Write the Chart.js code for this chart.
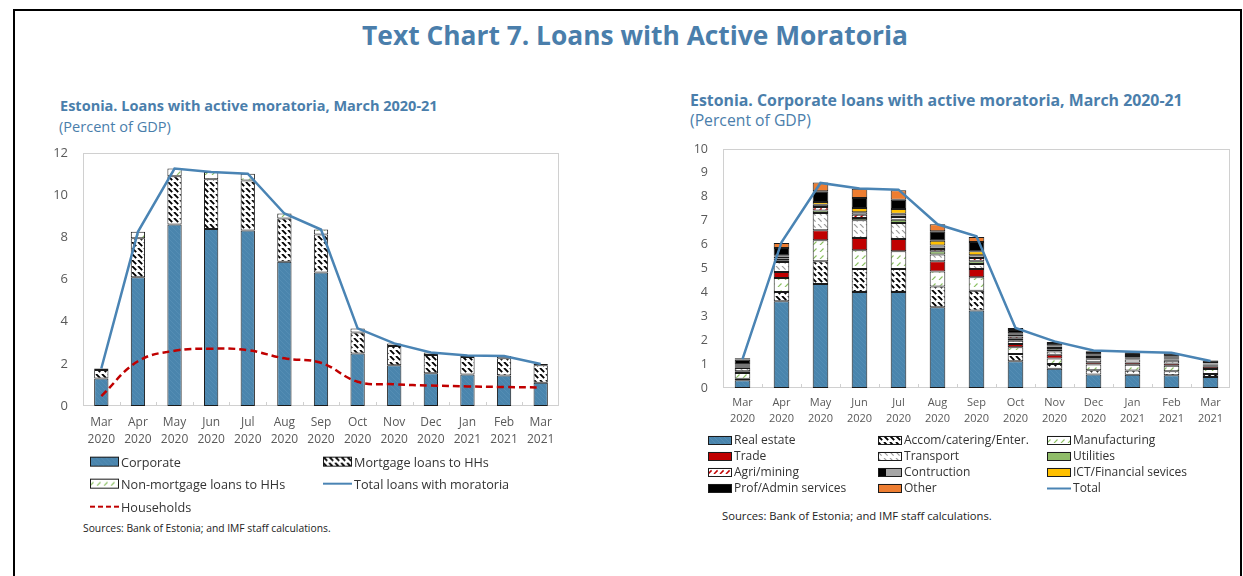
<!DOCTYPE html>
<html><head><meta charset="utf-8">
<script src="https://cdn.jsdelivr.net/npm/chart.js@4.4.1/dist/chart.umd.min.js"></script>
<style>
html,body{margin:0;padding:0;background:#fff;}
body{width:1243px;height:576px;position:relative;overflow:hidden;font-family:"Open Sans",sans-serif;}
#frame{position:absolute;left:13px;top:9px;width:1225px;height:620px;border:2px solid #000;}
.t{position:absolute;white-space:nowrap;line-height:1;transform:translateY(-50%);}
.blue{color:#4a7eab;}
.b{font-weight:700;}
.leg{position:absolute;white-space:nowrap;line-height:1;transform:translateY(-50%);display:flex;align-items:center;color:#333;}
.leg canvas{display:block;margin-right:2px;}
canvas.chart{position:absolute;}
</style>
</head><body>
<div id="frame"></div>
<div id="title" class="t blue b" style="left:635px;top:35px;transform:translate(-50%,-50%);">Text Chart 7. Loans with Active Moratoria</div>
<div id="subL" class="t blue b" style="left:60px;top:105px;">Estonia. Loans with active moratoria, March 2020-21</div>
<div id="pctL" class="t blue" style="left:59px;top:126px;">(Percent of GDP)</div>
<div id="subR" class="t blue b" style="left:690px;top:101px;">Estonia. Corporate loans with active moratoria, March 2020-21</div>
<div id="pctR" class="t blue" style="left:690px;top:121px;">(Percent of GDP)</div>
<canvas id="cL" class="chart" width="545" height="320" style="left:30px;top:140px;width:545px;height:320px"></canvas>
<canvas id="cR" class="chart" width="560" height="300" style="left:680px;top:140px;width:560px;height:300px"></canvas>
<div id="srcL" class="t" style="left:83px;top:528px;color:#222;">Sources: Bank of Estonia; and IMF staff calculations.</div>
<div id="srcR" class="t" style="left:722px;top:516px;color:#222;">Sources: Bank of Estonia; and IMF staff calculations.</div>
<div id="legends"></div>
<script>
// ---------- DATA ----------
const categories = [['Mar','2020'],['Apr','2020'],['May','2020'],['Jun','2020'],['Jul','2020'],['Aug','2020'],['Sep','2020'],['Oct','2020'],['Nov','2020'],['Dec','2020'],['Jan','2021'],['Feb','2021'],['Mar','2021']];

// Left panel: loans with active moratoria (percent of GDP)
const corporate   = [1.31, 6.11, 8.61, 8.40, 8.32, 6.84, 6.33, 2.49, 1.93, 1.55, 1.50, 1.45, 1.10];
const mortgage    = [0.40, 1.85, 2.29, 2.35, 2.37, 2.05, 1.80, 1.00, 0.91, 0.87, 0.82, 0.82, 0.83];
const nonMortgage = [0.07, 0.30, 0.36, 0.35, 0.33, 0.24, 0.24, 0.19, 0.13, 0.12, 0.08, 0.10, 0.06];
const totalLoans  = [1.78, 8.26, 11.26, 11.10, 11.02, 9.13, 8.37, 3.68, 2.97, 2.54, 2.40, 2.37, 1.99];
const households  = [0.47, 2.12, 2.62, 2.72, 2.65, 2.26, 2.05, 1.15, 1.03, 0.97, 0.93, 0.90, 0.88];
const leftTicks   = [0, 2, 4, 6, 8, 10, 12];

// Right panel: corporate loans with active moratoria by sector (percent of GDP)
const realEstate    = [0.32, 3.63, 4.35, 4.02, 4.02, 3.38, 3.24, 1.12, 0.81, 0.56, 0.55, 0.53, 0.46];
const accom         = [0.07, 0.39, 0.95, 0.96, 0.96, 0.87, 0.83, 0.30, 0.19, 0.18, 0.18, 0.17, 0.13];
const manufacturing = [0.24, 0.58, 0.88, 0.78, 0.74, 0.62, 0.56, 0.28, 0.23, 0.24, 0.24, 0.23, 0.20];
const trade         = [0.07, 0.25, 0.42, 0.52, 0.51, 0.43, 0.35, 0.14, 0.16, 0.10, 0.10, 0.09, 0.10];
const transport     = [0.14, 0.42, 0.72, 0.74, 0.67, 0.29, 0.21, 0.14, 0.14, 0.12, 0.12, 0.12, 0.06];
const utilities     = [0.03, 0.07, 0.11, 0.09, 0.14, 0.13, 0.11, 0.08, 0.07, 0.05, 0.05, 0.05, 0.03];
const agriMining    = [0.04, 0.08, 0.14, 0.14, 0.11, 0.10, 0.14, 0.09, 0.07, 0.05, 0.05, 0.05, 0.03];
const construction  = [0.04, 0.08, 0.10, 0.10, 0.14, 0.14, 0.11, 0.08, 0.07, 0.05, 0.05, 0.05, 0.03];
const ictFinancial  = [0.02, 0.03, 0.11, 0.18, 0.20, 0.20, 0.17, 0.06, 0.05, 0.04, 0.04, 0.02, 0.01];
const profAdmin     = [0.22, 0.33, 0.45, 0.42, 0.39, 0.40, 0.39, 0.14, 0.09, 0.12, 0.12, 0.12, 0.10];
const other         = [0.05, 0.21, 0.37, 0.39, 0.39, 0.29, 0.21, 0.08, 0.04, 0.03, 0.02, 0.03, 0.01];
const corpTotal     = [1.21, 6.10, 8.58, 8.35, 8.30, 6.85, 6.35, 2.51, 1.95, 1.57, 1.52, 1.47, 1.13];
const rightTicks    = [0, 1, 2, 3, 4, 5, 6, 7, 8, 9, 10];

// ---------- STYLE HELPERS ----------
const FONT = '"Open Sans", sans-serif';
const scratch = document.createElement('canvas').getContext('2d');
function hatch(bg, fg, dir, lw, size, dash) {
  const c = document.createElement('canvas'); c.width = c.height = size;
  const x = c.getContext('2d');
  x.fillStyle = bg; x.fillRect(0, 0, size, size);
  x.strokeStyle = fg; x.lineWidth = lw; if (dash) x.setLineDash(dash);
  x.beginPath();
  for (let k = -1; k <= 1; k++) {
    if (dir === '\\') { x.moveTo(k * size, 0); x.lineTo(k * size + size, size); }
    else { x.moveTo(k * size, size); x.lineTo(k * size + size, 0); }
  }
  x.stroke();
  return scratch.createPattern(c, 'repeat');
}
const D6 = 6 * Math.SQRT2, D7 = 7 * Math.SQRT2;
const P = {
  corp: hatch('#4a85ad', '#548db4', '\\', 1, 5),
  mort: hatch('#ffffff', '#000000', '\\', 1.9, 6, [D6 * 0.7, D6 * 0.3]),
  nonm: hatch('#ffffff', '#8cc063', '/', 1.2, 7, [D7 * 0.5, D7 * 0.5]),
  accom: hatch('#ffffff', '#000000', '\\', 1.9, 6, [D6 * 0.7, D6 * 0.3]),
  manu: hatch('#ffffff', '#8cc063', '/', 1.2, 7, [D7 * 0.5, D7 * 0.5]),
  trans: hatch('#ffffff', '#9a9a9a', '\\', 1.2, 6, [D6 * 0.6, D6 * 0.4]),
  agri: hatch('#ffffff', '#c00000', '/', 1.5, 6, [D6 * 0.6, D6 * 0.4]),
  constr: '#a5a5a5'
};
const BORDER = '#1a1a1a';

function frameAndTicks(color) {
  return {
    id: 'frameTicks',
    beforeDatasetsDraw(chart) {
      const { ctx, chartArea: a, scales: { x } } = chart;
      ctx.save();
      ctx.strokeStyle = color; ctx.lineWidth = 1;
      ctx.strokeRect(Math.round(a.left) + 0.5, Math.round(a.top) + 0.5, Math.round(a.right - a.left) - 1, Math.round(a.bottom - a.top) - 1);
      ctx.beginPath();
      const n = chart.data.labels.length;
      for (let i = 1; i < n; i++) {
        const px = Math.round((x.getPixelForValue(i - 1) + x.getPixelForValue(i)) / 2) + 0.5;
        ctx.moveTo(px, a.bottom); ctx.lineTo(px, a.bottom - 4);
      }
      ctx.stroke();
      ctx.restore();
    }
  };
}

function barDs(label, data, bg, barPct) {
  return { type: 'bar', label, data, backgroundColor: bg, borderColor: BORDER, borderWidth: 1,
    borderSkipped: false, stack: 'bars', order: 1, categoryPercentage: 1, barPercentage: barPct };
}
function fixX(h) { return function (s) { s.height = h; s.paddingLeft = 0; s.paddingRight = 0; }; }
function fixY(w) { return function (s) { s.width = w; s.paddingTop = 0; s.paddingBottom = 0; }; }

// ---------- LEFT CHART ----------
const chartL = new Chart(document.getElementById('cL'), {
  type: 'bar',
  data: {
    labels: categories,
    datasets: [
      { type: 'line', label: 'Total loans with moratoria', data: totalLoans, borderColor: '#4a84b4', borderWidth: 2.5,
        pointRadius: 0, stack: 'tot', order: 0, tension: 0 },
      { type: 'line', label: 'Households', data: households, borderColor: '#c00000', borderWidth: 2.5, borderDash: [7, 4],
        pointRadius: 0, stack: 'hh', order: 0, tension: 0.4 },
      barDs('Corporate', corporate, P.corp, 0.39),
      barDs('Mortgage loans to HHs', mortgage, P.mort, 0.39),
      barDs('Non-mortgage loans to HHs', nonMortgage, P.nonm, 0.39)
    ]
  },
  options: {
    responsive: false, animation: false, devicePixelRatio: 1,
    layout: { padding: { top: 13, right: 16, left: 0, bottom: 0 } },
    plugins: { legend: { display: false }, tooltip: { enabled: false } },
    scales: {
      x: { stacked: true, grid: { display: false, drawTicks: false }, border: { display: false },
        ticks: { color: '#595959', font: { family: FONT, size: 12, lineHeight: 1.4 }, padding: 8, maxRotation: 0, autoSkip: false },
        afterFit: fixX(54) },
      y: { stacked: true, min: 0, max: 12,
        afterBuildTicks(s) { s.ticks = leftTicks.map(v => ({ value: v })); },
        grid: { display: false, drawTicks: false }, border: { display: false },
        ticks: { color: '#595959', font: { family: FONT, size: 13 }, padding: 15 },
        afterFit: fixY(53) }
    }
  },
  plugins: [frameAndTicks('#d0d0d0')]
});

// ---------- RIGHT CHART ----------
const bw = 0.40;
const chartR = new Chart(document.getElementById('cR'), {
  type: 'bar',
  data: {
    labels: categories,
    datasets: [
      { type: 'line', label: 'Total', data: corpTotal, borderColor: '#4a84b4', borderWidth: 2.5,
        pointRadius: 0, stack: 'tot', order: 0, tension: 0 },
      barDs('Real estate', realEstate, P.corp, bw),
      barDs('Accom/catering/Enter.', accom, P.accom, bw),
      barDs('Manufacturing', manufacturing, P.manu, bw),
      barDs('Trade', trade, '#c00000', bw),
      barDs('Transport', transport, P.trans, bw),
      barDs('Utilities', utilities, '#8fbc68', bw),
      barDs('Agri/mining', agriMining, P.agri, bw),
      barDs('Contruction', construction, P.constr, bw),
      barDs('ICT/Financial sevices', ictFinancial, '#ffc000', bw),
      barDs('Prof/Admin services', profAdmin, '#000000', bw),
      barDs('Other', other, '#ed7d31', bw)
    ]
  },
  options: {
    responsive: false, animation: false, devicePixelRatio: 1,
    layout: { padding: { top: 9, right: 10, left: 0, bottom: 0 } },
    plugins: { legend: { display: false }, tooltip: { enabled: false } },
    scales: {
      x: { stacked: true, grid: { display: false, drawTicks: false }, border: { display: false },
        ticks: { color: '#595959', font: { family: FONT, size: 11, lineHeight: 1.45 }, padding: 7, maxRotation: 0, autoSkip: false },
        afterFit: fixX(52) },
      y: { stacked: true, min: 0, max: 10,
        afterBuildTicks(s) { s.ticks = rightTicks.map(v => ({ value: v })); },
        grid: { display: false, drawTicks: false }, border: { display: false },
        ticks: { color: '#595959', font: { family: FONT, size: 12.5 }, padding: 15 },
        afterFit: fixY(43) }
    }
  },
  plugins: [frameAndTicks('#d0d0d0')]
});

// ---------- TEXT FITTING ----------
function fit(id, target) {
  const el = document.getElementById(id);
  el.style.fontSize = '100px';
  const w = el.getBoundingClientRect().width;
  el.style.fontSize = (100 * target / w) + 'px';
}
fit('title', 546);
fit('subL', 378);
fit('pctL', 112);
fit('subR', 493);
fit('pctR', 121);
fit('srcL', 248);
fit('srcR', 270);

function measureSize(text, target) {
  scratch.font = '100px ' + FONT;
  return 100 * target / scratch.measureText(text).width;
}

// ---------- CUSTOM LEGENDS ----------
const legHost = document.getElementById('legends');
function swatch(w, h, kind, style) {
  const c = document.createElement('canvas'); c.width = w; c.height = h;
  const x = c.getContext('2d');
  if (kind === 'bar') {
    x.fillStyle = style.bg; x.fillRect(0, 0, w, h);
    if (style.black) { x.fillStyle = '#000'; x.fillRect(0, 0, Math.round(w * 0.35), h); }
    x.strokeStyle = BORDER; x.lineWidth = 1; x.strokeRect(0.5, 0.5, w - 1, h - 1);
  } else {
    x.strokeStyle = style.color; x.lineWidth = 2;
    if (style.dash) x.setLineDash(style.dash);
    x.beginPath(); x.moveTo(0, h / 2); x.lineTo(w, h / 2); x.stroke();
  }
  return c;
}
function addLeg(left, top, text, sw, fontSize) {
  const d = document.createElement('div');
  d.className = 'leg';
  d.style.left = left + 'px'; d.style.top = top + 'px'; d.style.fontSize = fontSize + 'px';
  d.appendChild(sw);
  const s = document.createElement('span'); s.textContent = text; d.appendChild(s);
  legHost.appendChild(d);
}
const fsL = measureSize('Mortgage loans to HHs', 135);
const dsL = chartL.data.datasets;
addLeg(90, 462, dsL[2].label, swatch(29, 10, 'bar', { bg: P.corp }), fsL);
addLeg(323, 462, dsL[3].label, swatch(29, 10, 'bar', { bg: P.mort }), fsL);
addLeg(90, 484, dsL[4].label, swatch(29, 10, 'bar', { bg: P.nonm }), fsL);
addLeg(323, 484, dsL[0].label, swatch(29, 10, 'line', { color: '#4a84b4' }), fsL);
addLeg(90, 507, dsL[1].label, swatch(29, 10, 'line', { color: '#c00000', dash: [5, 3] }), fsL);

const fsR = measureSize('Accom/catering/Enter.', 125);
const dsR = chartR.data.datasets;
const colsR = [708, 878, 1047], rowsR = [440, 456, 472, 488];
const orderR = [1, 2, 3, 4, 5, 6, 7, 8, 9, 10, 11, 0];
orderR.forEach((di, k) => {
  const ds = dsR[di];
  const col = colsR[k % 3], row = rowsR[Math.floor(k / 3)];
  let sw;
  if (ds.type === 'line') sw = swatch(24, 9, 'line', { color: ds.borderColor });
  else sw = swatch(24, 9, 'bar', { bg: ds.backgroundColor, black: ds.label === 'Contruction' });
  addLeg(col, row, ds.label, sw, fsR);
});
</script>
</body></html>
